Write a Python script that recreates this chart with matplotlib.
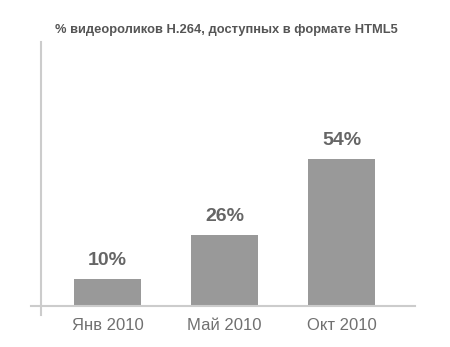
import matplotlib
matplotlib.use("Agg")
import matplotlib.pyplot as plt
from matplotlib.lines import Line2D

categories = ["Янв 2010", "Май 2010", "Окт 2010"]
values = [10, 26, 54]
value_labels = ["10%", "26%", "54%"]
title = "% видеороликов H.264, доступных в формате HTML5"

plt.rcParams['font.family'] = ['Liberation Sans', 'DejaVu Sans']

fig = plt.figure(figsize=(4.5, 3.47), dpi=100)
ax = fig.add_axes([41/450, 1-306/347, (415-41)/450, (306-42)/347])

pos = list(range(len(categories)))
bars = ax.bar(pos, values, width=0.573, color="#999999")
ax.set_xlim(-0.568, 2.628)
ax.set_ylim(0, 96.7)

for b, lab in zip(bars, value_labels):
    ax.annotate(lab, (b.get_x() + b.get_width()/2, b.get_height()),
                xytext=(0, 7), textcoords="offset points",
                ha="center", va="bottom", fontsize=14, fontweight="bold",
                color="#666666")

for s in ax.spines.values():
    s.set_visible(False)
ax.set_yticks([])
ax.set_xticks(pos)
ax.set_xticklabels(categories, fontsize=12, color="#707070")
ax.tick_params(axis="x", length=0, pad=9)

# axis lines (extending slightly past the origin)
fig.add_artist(Line2D([31/450, 415/450], [1-306/347, 1-306/347],
                      color="#cccccc", lw=1.5, transform=fig.transFigure))
fig.add_artist(Line2D([41/450, 41/450], [1-42/347, 1-315/347],
                      color="#cccccc", lw=1.5, transform=fig.transFigure))

fig.text(226/450, 1-30/347, title, ha="center", va="center",
         fontsize=9.3, fontweight="bold", color="#555555")

fig.savefig("out.png", dpi=100, facecolor="white")
